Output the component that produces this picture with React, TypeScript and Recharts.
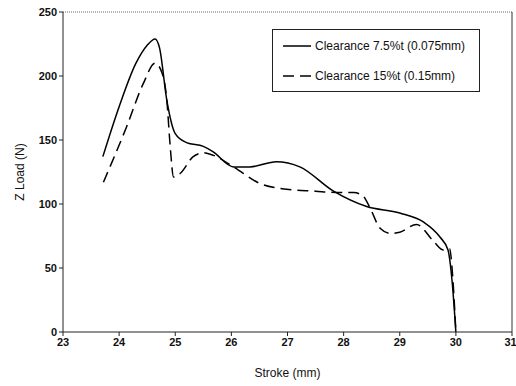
import {
  LineChart,
  Line,
  XAxis,
  YAxis,
  ReferenceLine,
} from "recharts";

const xTicks = [23, 24, 25, 26, 27, 28, 29, 30, 31];
const yTicks = [0, 50, 100, 150, 200, 250];

const strokeA = [23.71, 24.0, 24.3, 24.5, 24.64, 24.72, 24.85, 25.0, 25.2, 25.5, 25.67, 26.04, 26.33, 26.8, 27.22, 27.82, 28.41, 29.0, 29.42, 29.72, 29.86, 29.93, 30.0];
const loadA = [137, 176, 210, 224, 229, 222, 181, 155, 148, 145, 141, 129, 129, 133, 129, 110, 98, 93, 86, 74, 64, 41, 0];

const strokeB = [23.72, 24.13, 24.43, 24.64, 24.76, 24.85, 24.91, 24.97, 25.09, 25.32, 25.5, 25.68, 26.04, 26.51, 26.9, 27.5, 27.88, 28.18, 28.35, 28.47, 28.65, 28.83, 29.0, 29.3, 29.6, 29.78, 29.89, 29.93, 30.0];
const loadB = [117, 160, 194, 210, 203, 181, 145, 121, 124, 137, 140, 138, 129, 116, 112, 110, 109, 109, 106, 97, 81, 77, 78, 84, 71, 64, 65, 51, 0];

const seriesA = strokeA.map((x, i) => ({ x, y: loadA[i] }));
const seriesB = strokeB.map((x, i) => ({ x, y: loadB[i] }));

const font = '"Liberation Sans", Arial, sans-serif';

const LegendBox = () => (
  <div
    style={{
      position: "absolute",
      left: 272,
      top: 29,
      border: "1px solid #222",
      background: "#fff",
      width: 208,
      height: 63,
      fontFamily: font,
      fontSize: 12,
      color: "#111",
      boxSizing: "border-box",
    }}
  >
    <svg width={30} height={62} style={{ position: "absolute", left: 10, top: 0 }}>
      <line x1={0} y1={16} x2={28} y2={16} stroke="#000" strokeWidth={1.5} />
      <line x1={0} y1={46} x2={28} y2={46} stroke="#000" strokeWidth={1.5} strokeDasharray="11 6" />
    </svg>
    <div style={{ position: "absolute", left: 42, top: 9 }}>Clearance 7.5%t (0.075mm)</div>
    <div style={{ position: "absolute", left: 42, top: 39 }}>Clearance 15%t (0.15mm)</div>
  </div>
);

const App = () => {
  return (
    <div style={{ position: "absolute", left: 0, top: 0, width: 516, height: 386 }}>
      <LineChart width={516} height={386} margin={{ top: 12, right: 4, bottom: 0, left: 0 }}>
        <XAxis
          type="number"
          dataKey="x"
          domain={[23, 31]}
          ticks={xTicks}
          allowDataOverflow
          height={54}
          tick={{ fontSize: 11, fontWeight: "bold", fill: "#111", fontFamily: font }}
          stroke="#222"
          tickSize={4}
          label={{ value: "Stroke (mm)", position: "insideBottom", offset: 9, fontSize: 12, fill: "#111", fontFamily: font }}
        />
        <YAxis
          type="number"
          dataKey="y"
          domain={[0, 250]}
          ticks={yTicks}
          width={63}
          tick={{ fontSize: 11, fontWeight: "bold", fill: "#111", fontFamily: font }}
          stroke="#222"
          tickSize={4}
          label={{ value: "Z Load (N)", angle: -90, position: "insideLeft", offset: 20, fontSize: 12, fill: "#111", fontFamily: font, style: { textAnchor: "middle" } }}
        />
        <ReferenceLine y={250} stroke="#666" strokeDasharray="1 1" />
        <ReferenceLine x={31} stroke="#333" />
        <Line
          data={seriesA}
          dataKey="y"
          type="monotone"
          stroke="#000"
          strokeWidth={1.5}
          dot={false}
          isAnimationActive={false}
        />
        <Line
          data={seriesB}
          dataKey="y"
          type="monotone"
          stroke="#000"
          strokeWidth={1.5}
          strokeDasharray="11 6"
          dot={false}
          isAnimationActive={false}
        />
      </LineChart>
      <LegendBox />
    </div>
  );
};

export default App;
